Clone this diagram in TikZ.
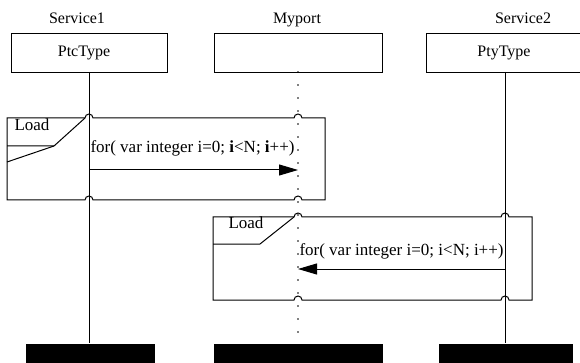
\documentclass[tikz,border=0pt]{standalone}
\usepackage{fontspec}
\setmainfont{Liberation Serif}
\usetikzlibrary{arrows.meta}
\begin{document}
\begin{tikzpicture}[x=1pt,y=-1pt,line width=1pt,
  txt/.style={font=\fontsize{16}{19}\selectfont,inner sep=0pt},
  mtxt/.style={font=\fontsize{17}{20}\selectfont,inner sep=0pt},
  headbox/.style={draw,anchor=north west,minimum height=39pt,inner sep=0pt},
  blk/.style={fill=black,draw=none,anchor=north west,minimum height=22pt,inner sep=0pt},
  life/.style={line width=1pt},
  dotlife/.style={line width=1.7pt,line cap=round,dash pattern=on 0pt off 13pt},
  msg/.style={line width=1pt,-{Triangle[length=19pt,width=11pt]}}]
\clip (0,0) rectangle (580,363);
\useasboundingbox (0,0) rectangle (580,363);
% headers
\node[txt,anchor=base] (t1) at (77,24) {Service1};
\node[txt,anchor=base] (t2) at (297,24) {Myport};
\node[txt,anchor=base] (t3) at (523,24) {Service2};
\node[headbox,minimum width=156pt] (s1) at (11,33) {};
\node[headbox,minimum width=168pt] (m) at (214,33) {};
\node[headbox,minimum width=164pt] (s2) at (426,33) {};
\node[txt,anchor=base] (s1t) at (84,57) {PtcType};
\node[txt,anchor=base] (s2t) at (504,57) {PtyType};
% bottom bars
\node[blk,minimum width=129pt] (b1) at (25,343) {};
\node[blk,minimum width=169pt] (b2) at (213,343) {};
\node[blk,minimum width=134pt] (b3) at (438,343) {};
% lifelines
\coordinate (l1) at (89,72);
\coordinate (l2) at (298,72);
\coordinate (l3) at (505,72);
\draw[life] (l1) -- (l1 |- b1.north);
\draw[dotlife] (l2) -- (l2 |- b2.north);
\draw[life] (l3) -- (l3 |- b3.north);
% frame 1
\draw (7,118) -- (85,118) arc[start angle=180,end angle=0,radius=4pt]
  -- (294,118) arc[start angle=180,end angle=0,radius=4pt]
  -- (325,118) -- (325,200) -- (302,200)
  arc[start angle=0,end angle=180,radius=4pt] -- (93,200)
  arc[start angle=0,end angle=180,radius=4pt] -- (7,200) -- cycle;
\draw (7,146) -- (54,146) -- (85,118);
\draw (7,162) -- (54,146);
\node[mtxt,anchor=base west] (ld1) at (14,131) {Load};
\node[mtxt,anchor=base west] (m1t) at (90,153) {for( var integer i=0; \textbf{i}<N; \textbf{i}++)};
\coordinate (a1s) at (89,170);
\coordinate (a1e) at (298,170);
\draw[msg] (a1s) -- (a1e);
% frame 2
\draw (213,217) -- (294,217) arc[start angle=180,end angle=0,radius=4pt]
  -- (501,217) arc[start angle=180,end angle=0,radius=4pt]
  -- (532,217) -- (532,300) -- (509,300)
  arc[start angle=0,end angle=180,radius=4pt] -- (302,300)
  arc[start angle=0,end angle=180,radius=4pt] -- (213,300) -- cycle;
\draw (213,244) -- (260,244) -- (294,217);
\node[mtxt,anchor=base west] (ld2) at (228,229) {Load};
\node[mtxt,anchor=base west] (m2t) at (299,255) {for( var integer i=0; i<N; i++)};
\coordinate (a2s) at (505,269);
\coordinate (a2e) at (298,269);
\draw[msg] (a2s) -- (a2e);
\end{tikzpicture}
\end{document}
